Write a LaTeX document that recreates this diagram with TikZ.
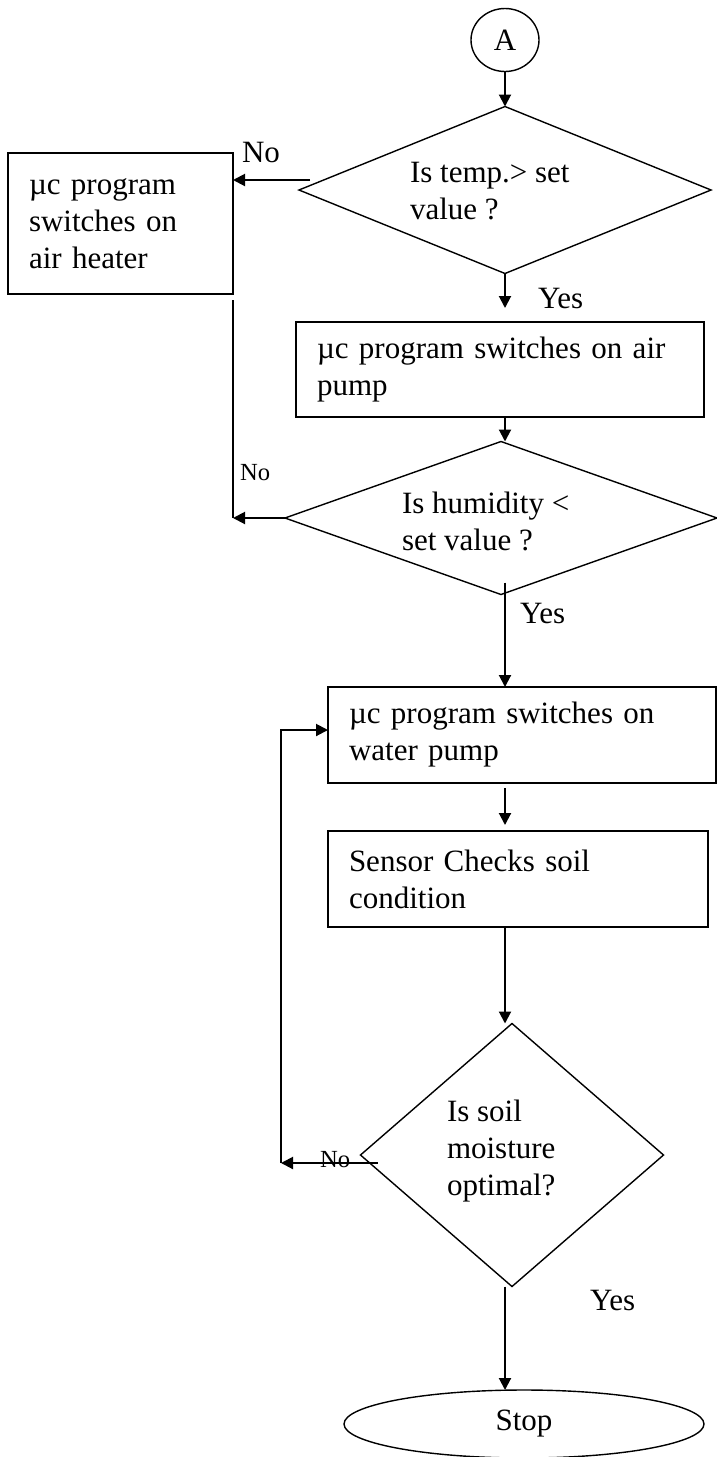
\documentclass[tikz,border=0pt]{standalone}
\usepackage{fontspec}
\setmainfont{Liberation Serif}
\usetikzlibrary{shapes.geometric,arrows.meta,calc}

\begin{document}
\begin{tikzpicture}[x=0.5pt,y=-0.5pt,inner sep=0pt,outer sep=0pt,line width=0.7pt,
    font=\fontsize{15.5}{18.5}\selectfont,
    box/.style={draw=black,rectangle,anchor=north west,align=left,inner xsep=10.5pt},
    decision/.style={draw=black,diamond,aspect=2},
    arr/.style={draw=black,line width=1pt,-{Triangle[length=6pt,width=6pt]}},
    small/.style={font=\fontsize{12.3}{14}\selectfont}]
  \useasboundingbox (0,0) rectangle (717,1457);
  \coordinate (axis) at (505,0);
  % shapes
  \node[draw=black,ellipse,minimum width=34pt,minimum height=31.5pt] (ellipse1) at (505,40) {A};
  \node[decision,minimum width=206pt,minimum height=83.5pt] (diamond1) at (505,190) {};
  \node[box,text width=91.5pt,minimum height=70.5pt] (rect1) at (8,153)
    {µc program\\switches on\\air heater};
  \node[box,text width=183pt,minimum height=47.5pt] (rect2) at (296,322)
    {µc program switches on air\\pump};
  \node[decision,minimum width=216pt,minimum height=76.5pt] (diamond2) at (501,518) {};
  \node[box,text width=173pt,minimum height=48pt] (rect3) at (328,687)
    {µc program switches on\\water pump};
  \node[box,text width=169pt,minimum height=48pt] (rect4) at (328,831)
    {Sensor Checks soil\\condition};
  \node[decision,aspect=1,minimum width=151.5pt,minimum height=131.5pt] (diamond3) at (512,1155) {};
  \node[draw=black,ellipse,minimum width=180pt,minimum height=34pt] (ellipse2) at (524,1424) {Stop};
  % texts
  \node[anchor=west,align=left] (text1) at (410,191) {Is temp.> set\\value ?};
  \node[anchor=west,align=left] (text2) at (402,521) {Is humidity <\\set value ?};
  \node[anchor=west,align=left] (text3) at (447,1151) {Is soil\\moisture\\optimal?};
  \node[anchor=west] (text4) at (242,152) {No};
  \node[anchor=west] (text5) at (538,298) {Yes};
  \node[anchor=west,small] (text6) at (240,473) {No};
  \node[anchor=west] (text7) at (520,613) {Yes};
  \node[anchor=west,small] (text8) at (320,1160) {No};
  \node[anchor=west] (text9) at (590,1300) {Yes};
  % connectors
  \draw[arr] (ellipse1.south) -- (diamond1.north);
  \draw[arr] ($(diamond1.west)+(11,-10)$) coordinate (c1) -- (c1 -| rect1.east);
  \draw[arr] (diamond1.south) -- ($(rect2.north -| axis)+(0,-14)$);
  \draw[arr] (rect2.south -| axis) -- (diamond2.north -| axis);
  \draw ($(rect1.south east)+(0,6)$) -- (rect1.south east |- diamond2.west) coordinate (c2);
  \draw[arr] (diamond2.west) -- (c2);
  \draw[arr] ($(diamond2.south -| axis)+(0,-12)$) -- (rect3.north -| axis);
  \draw[arr] ($(rect3.south -| axis)+(0,5)$) -- ($(rect4.north -| axis)+(0,-6)$);
  \draw[arr] (rect4.south -| axis) -- (diamond3.north -| axis);
  \draw[arr] (diamond3.south -| axis) -- (ellipse2.north -| axis);
  \coordinate (c4) at (281,730);
  \draw[arr] ($(diamond3.west)+(17,8)$) coordinate (c3) -- (c3 -| c4);
  \draw[arr] (c3 -| c4) -- (c4) -- (c4 -| rect3.west);
\end{tikzpicture}
\end{document}
